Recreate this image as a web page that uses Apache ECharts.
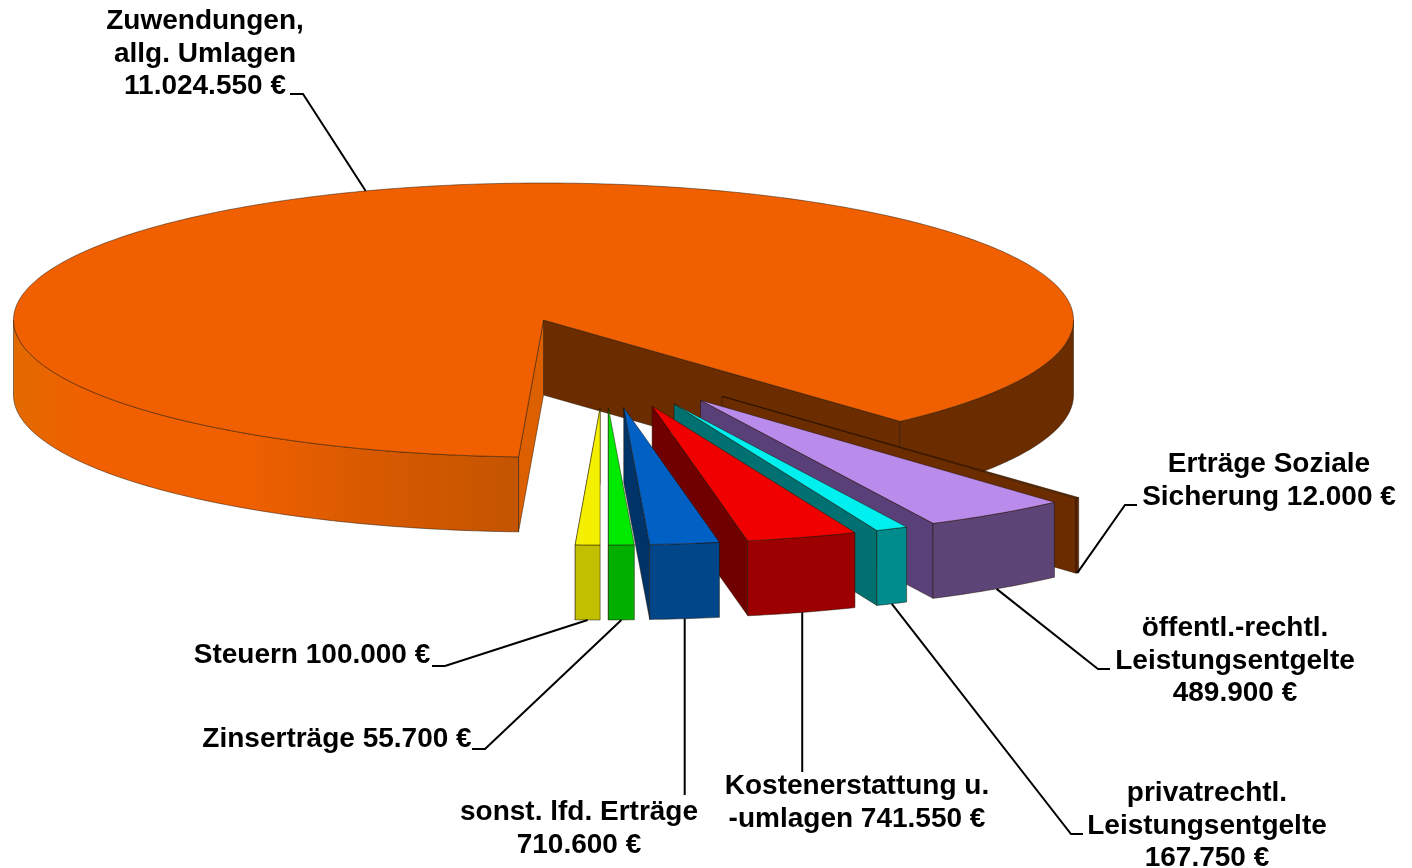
<!DOCTYPE html>
<html><head><meta charset="utf-8">
<style>html,body{margin:0;padding:0;background:#fff}#c{width:1412px;height:868px}</style>
<script src="https://cdn.jsdelivr.net/npm/echarts@6/dist/echarts.min.js"></script>
</head><body><div id="c"></div>
<script>
// ---- data, clockwise from the large slice ----
const sliceNames = ['Zuwendungen, allg. Umlagen','Erträge Soziale Sicherung','öffentl.-rechtl. Leistungsentgelte','privatrechtl. Leistungsentgelte','Kostenerstattung u. -umlagen','sonst. lfd. Erträge','Zinserträge','Steuern'];
const euroValues = [11024550,12000,489900,167750,741550,710600,55700,100000];
// share of the circle each slice occupies as drawn in the picture (percent)
const drawnShares = [87.5,0.11,4.41,0.98,3.36,2.11,0.78,0.75];
const labelTemplates = ['Zuwendungen,\nallg. Umlagen\n{v}','Erträge Soziale\nSicherung {v}','öffentl.-rechtl.\nLeistungsentgelte\n{v}','privatrechtl.\nLeistungsentgelte\n{v}','Kostenerstattung u.\n-umlagen {v}','sonst. lfd. Erträge\n{v}','Zinserträge {v}','Steuern {v}'];

// ---- styles ----
const topColors  = ['#f06000','#6b2c00','#b98ceb','#00f0f0','#f00000','#0060c4','#00ea00','#f4f000'];
const wallColors = [null,'#5e2600','#5c4476','#008c8c','#9c0000','#004688','#00b000','#c0c000'];
const sideColors = ['#dc6000','#6b2c00','#5a4078','#007070','#700000','#003468','#00a000','#b0b000'];
const edge = 'rgba(30,15,0,0.6)';
const font = 'bold 28px "Liberation Sans", Arial, sans-serif';

// ---- layout ----
const pie = {cx:543.5, cy:320, rx:530, ry:137, depth:75, startAngle:92.7};
const labelLayout = [
 {x:205,y:54,  elbow:[[290,94],[303,94]], anchorAngle:250.4, top:true},
 {x:1269,y:481,elbow:[[1137,505],[1125,505]]},
 {x:1235,y:661,elbow:[[1110,669],[1098,669]]},
 {x:1207,y:826,elbow:[[1083,834],[1071,834]]},
 {x:857,y:803, elbow:[[803,772]], vertical:true},
 {x:579,y:829, elbow:[[684,795]], vertical:true},
 {x:337,y:739, elbow:[[472,749],[485,749]]},
 {x:312,y:655, elbow:[[432,666],[445,666]]}
];

// ---- geometry derived from the data ----
const rad = d => d*Math.PI/180;
const total = drawnShares.reduce((a,b)=>a+b,0);
let cursor = pie.startAngle;
const spans = drawnShares.map(s => { const a=cursor; cursor += s/total*360; return [a,cursor]; });
function offsetOf(i){
  if(i===0) return [0,0];
  const m=(spans[i][0]+spans[i][1])/2 % 360;
  const t=91.4-m;
  return [56.5+3*t-0.0045*t*t, 88-12*Math.pow(t/44,2)];
}
const pt=(th,o)=>[pie.cx+o[0]+pie.rx*Math.cos(rad(th)), pie.cy+o[1]+pie.ry*Math.sin(rad(th))];
const down=p=>[p[0],p[1]+pie.depth];
function arc(a,b){const n=Math.max(3,Math.ceil((b-a)*1.5));const r=[];for(let k=0;k<=n;k++)r.push(a+(b-a)*k/n);return r;}
function poly(points,fill){return {type:'polygon',shape:{points},style:{fill,stroke:edge,lineWidth:0.8}};}
function wall(a,b,o,fill){const t=arc(a,b).map(x=>pt(x,o));return poly(t.concat(t.map(down).reverse()),fill);}
const hgrad=stops=>({type:'linear',x:0,y:0,x2:1,y2:0,colorStops:stops.map(s=>({offset:s[0],color:s[1]}))});
const frontWall=hgrad([[0,'#e26a00'],[0.14,'#f06000'],[0.45,'#f06000'],[0.7,'#d85a00'],[1,'#c45400']]);

function renderSlice(params){
  const i=params.dataIndex, o=offsetOf(i), [a,b]=spans[i];
  const apex=[pie.cx+o[0],pie.cy+o[1]], kids=[];
  const cut=(th,fill)=>{const p=pt(th,o);return poly([apex,p,down(p),down(apex)],fill);};
  if(i===0){
    kids.push(cut(b,'#6b2c00'));
    kids.push(cut(a,sideColors[0]));
    kids.push(wall(360,b,o,'#6b2c00'));
    kids.push(wall(a,180,o,frontWall));
  }else{
    kids.push(cut(b,sideColors[i]));
    kids.push(wall(a,b,o,wallColors[i]));
  }
  kids.push(poly([apex].concat(arc(a,b).map(x=>pt(x,o))),topColors[i]));
  return {type:'group',children:kids};
}
function renderLabel(params,api){
  const i=params.dataIndex, L=labelLayout[i], o=offsetOf(i), [a,b]=spans[i];
  const euro=api.value(1).toString().replace(/\B(?=(\d{3})+$)/g,'.')+' €';
  const th=L.anchorAngle!==undefined?L.anchorAngle:(a+b)/2;
  const p=pt(th,o), anchor=L.top?p:down(p);
  const elbow=L.vertical?[[anchor[0],L.elbow[0][1]]]:L.elbow;
  return {type:'group',children:[
    {type:'polyline',shape:{points:elbow.concat([anchor])},style:{fill:'none',stroke:'#000',lineWidth:2}},
    {type:'text',style:{x:L.x,y:L.y,text:labelTemplates[i].replace('{v}',euro),font,fill:'#000',align:'center',verticalAlign:'middle',lineHeight:32.5}}
  ]};
}
const rows=sliceNames.map((n,i)=>({name:n,value:[drawnShares[i],euroValues[i]]}));
const chart=echarts.init(document.getElementById('c'),null,{renderer:'canvas'});
chart.setOption({animation:false,backgroundColor:'#fff',series:[
  {type:'custom',coordinateSystem:'none',silent:true,data:rows,renderItem:renderSlice,z:1},
  {type:'custom',coordinateSystem:'none',silent:true,data:rows,renderItem:renderLabel,z:2}
]});
</script></body></html>
